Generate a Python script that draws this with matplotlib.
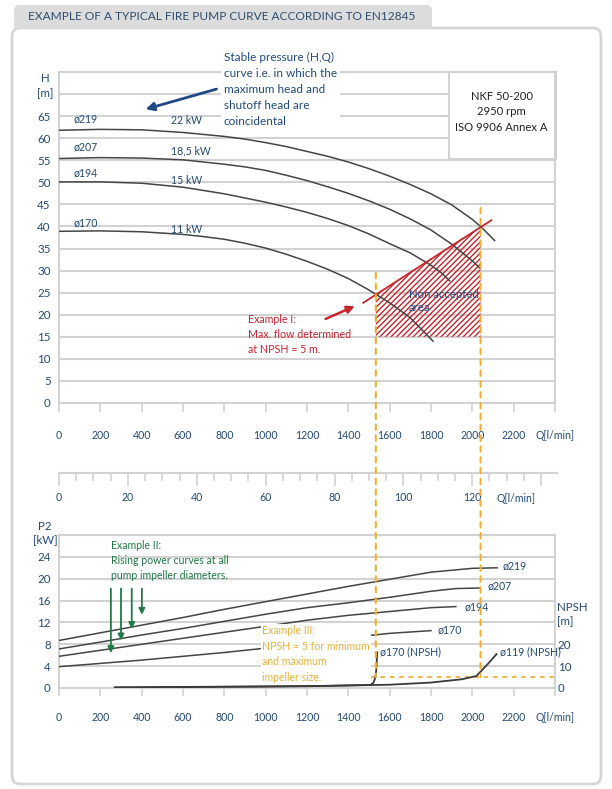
import matplotlib
matplotlib.use('Agg')
import matplotlib.pyplot as plt
from matplotlib.patches import Polygon, Rectangle, FancyBboxPatch, ConnectionPatch
import matplotlib.transforms as mtransforms

plt.rcParams['font.family'] = ['Lato', 'DejaVu Sans']
plt.rcParams['hatch.linewidth'] = 1.0

# ---- H(Q) curves ----
q219 = [0, 200, 400, 600, 800, 900, 1000, 1100, 1200, 1300, 1400, 1500, 1600, 1700, 1800, 1900, 2000, 2040, 2108]
h219 = [61.8, 62.0, 61.9, 61.3, 60.4, 59.8, 59.0, 58.1, 57.0, 55.9, 54.6, 53.1, 51.4, 49.5, 47.4, 44.9,
        41.6, 40.0, 36.8]
q207 = [0, 200, 400, 600, 800, 900, 1000, 1100, 1200, 1300, 1400, 1500, 1600, 1700, 1800, 1900, 2000, 2036]
h207 = [55.4, 55.6, 55.5, 55.1, 54.1, 53.5, 52.7, 51.6, 50.4, 49.0, 47.5, 45.8, 43.9, 41.7, 39.2, 36.0,
        32.2, 30.6]
q194 = [0, 200, 400, 600, 800, 1000, 1100, 1200, 1300, 1400, 1500, 1600, 1700, 1800, 1850, 1890]
h194 = [50.1, 50.1, 49.8, 48.9, 47.4, 45.5, 44.4, 43.2, 41.8, 40.2, 38.3, 36.1, 34.0, 31.2, 29.5, 27.7]
q170 = [0, 200, 400, 600, 700, 800, 900, 1000, 1100, 1200, 1300, 1400, 1500, 1600, 1700, 1810]
h170 = [38.9, 39.0, 38.8, 38.2, 37.7, 37.1, 36.2, 35.1, 33.7, 32.1, 30.3, 28.2, 25.6, 22.7, 19.3, 14.0]

diameters = ['ø219', 'ø207', 'ø194', 'ø170']
motor_kw = ['22 kW', '18,5 kW', '15 kW', '11 kW']

# non accepted area (red line and hatch)
red_q = [1472, 2092]
red_h = [22.7, 41.4]
area_q = [1533, 2040]
area_h = [24.6, 39.9]
area_floor = 15

# ---- P2(Q) curves ----
pq219 = [0, 200, 400, 600, 800, 1000, 1200, 1400, 1600, 1800, 2000, 2120]
p219 = [8.7, 10.1, 11.5, 12.9, 14.4, 15.8, 17.2, 18.6, 19.9, 21.2, 21.9, 22.0]
pq207 = [0, 200, 400, 600, 800, 1000, 1200, 1400, 1600, 1800, 1920, 2036]
p207 = [7.15, 8.4, 9.7, 10.9, 12.2, 13.5, 14.7, 15.6, 16.6, 17.7, 18.2, 18.3]
pq194 = [0, 200, 400, 600, 800, 1000, 1200, 1400, 1600, 1800, 1920]
p194 = [5.8, 6.9, 8.0, 9.1, 10.2, 11.3, 12.4, 13.3, 14.0, 14.7, 14.9]
pq170 = [0, 200, 400, 600, 800, 1000, 1200, 1400, 1600, 1800]
p170 = [3.9, 4.5, 5.1, 5.8, 6.5, 7.3, 8.2, 9.2, 10.0, 10.5]

# ---- NPSH curves ----
nq170 = [270, 600, 1000, 1300, 1500, 1520, 1530, 1535, 1540]
npsh170 = [0.2, 0.4, 0.7, 1.0, 1.4, 2.2, 4.5, 8.0, 16.3]
nq119 = [270, 600, 1000, 1200, 1600, 1800, 1950, 2020, 2040, 2080, 2117]
npsh119 = [0.3, 0.5, 0.7, 0.8, 1.5, 2.5, 4.0, 5.5, 7.5, 11.5, 15.5]
npsh_limit = 5
q_min_flow = 1533
q_max_flow = 2040

navy = '#234a78'
gridc = '#d2d2d2'
curvec = '#454545'
red = '#c8242b'
orange = '#eeb03a'
green = '#1f7a45'
dash = (0, (2.6, 2.6))

fig = plt.figure(figsize=(6.12, 7.89), dpi=100)

# frame and title tab
fig.add_artist(FancyBboxPatch((12 / 612, 5 / 789), 589 / 612, 756 / 789, transform=fig.transFigure,
                              boxstyle='round,pad=0,rounding_size=0.012', fc='white', ec='#d6d6d6',
                              lw=2, zorder=-5))
fig.add_artist(FancyBboxPatch((14 / 612, 1 - 29 / 789), 418 / 612, 24 / 789, transform=fig.transFigure,
                              boxstyle='round,pad=0,rounding_size=0.008', fc='#dcdcdc', ec='none', zorder=-4))
fig.add_artist(Rectangle((14 / 612, 1 - 29 / 789), 418 / 612, 10 / 789, transform=fig.transFigure,
                         fc='#dcdcdc', ec='none', zorder=-4))
fig.text(28 / 612, 1 - 17 / 789, 'EXAMPLE OF A TYPICAL FIRE PUMP CURVE ACCORDING TO EN12845',
         fontsize=8.6, color='#2e4c6d', va='center', ha='left')

L, W = 59 / 612, 496 / 612

# ================= top chart H(Q) =================
ax1 = fig.add_axes([L, 1 - 403 / 789, W, 331 / 789])
ax1.set_xlim(0, 2400)
ax1.set_ylim(0, 75)
ax1.set_xticks(range(0, 2401, 200))
ax1.set_xticklabels([str(v) for v in range(0, 2201, 200)] + ['Q[l/min]'])
ax1.set_yticks(range(0, 76, 5))
ax1.set_yticklabels([str(v) for v in range(0, 66, 5)] + ['', ''])
ax1.grid(axis='y', color=gridc, lw=1.5)
ax1.set_axisbelow(True)
for s in ax1.spines.values():
    s.set_color(gridc)
    s.set_linewidth(1.5)
ax1.tick_params(axis='x', length=6.5, width=1.2, color=gridc, pad=13, labelsize=7.6, labelcolor=navy)
ax1.tick_params(axis='y', length=0, pad=6, labelsize=8.3, labelcolor=navy)
ax1.patch.set_alpha(0)

tr1 = mtransforms.blended_transform_factory(ax1.transAxes, ax1.transData)
ax1.text(-0.028, 73.6, 'H', transform=tr1, ha='center', va='center', fontsize=8.3, color=navy)
ax1.text(-0.028, 70.2, '[m]', transform=tr1, ha='center', va='center', fontsize=8.3, color=navy)

for q, h in [(q219, h219), (q207, h207), (q194, h194), (q170, h170)]:
    ax1.plot(q, h, color=curvec, lw=1.1, zorder=3)

for txt, y in zip(diameters, [64.3, 58.0, 52.1, 40.8]):
    ax1.text(68, y, txt, fontsize=7.6, color=navy, va='center', ha='left')
for txt, y in zip(motor_kw, [63.9, 57.1, 50.5, 39.4]):
    ax1.text(543, y, txt, fontsize=7.6, color=navy, va='center', ha='left')

# info box
ax1.add_patch(Rectangle((1886, 55.3), 520, 19.7, fc='white', ec=gridc, lw=1.5, zorder=2, clip_on=False))
ax1.text(2142, 66.0, 'NKF 50-200\n2950 rpm\nISO 9906 Annex A', ha='center', va='center',
         fontsize=8.1, color='#222222', linespacing=1.5, zorder=4)

# non accepted area
ax1.add_patch(Polygon([(area_q[0], area_h[0]), (area_q[1], area_h[1]),
                       (area_q[1], area_floor), (area_q[0], area_floor)],
                      closed=True, fc='none', ec=red, lw=0, hatch='//////', zorder=2))
ax1.plot(red_q, red_h, color=red, lw=1.3, zorder=4)
ax1.text(1692, 23.1, 'Non accepted\narea', fontsize=8.2, color='#1f4e8c', ha='left', va='center',
         linespacing=1.2, zorder=5)

ax1.annotate('', xy=(1443, 22.2), xytext=(1278, 18.8),
             arrowprops=dict(arrowstyle='-|>', color=red, lw=1.8, mutation_scale=11), zorder=5)
ax1.text(914, 20.1, 'Example I:\nMax. flow determined\nat NPSH = 5 m.', fontsize=7.7, color=red,
         ha='left', va='top', linespacing=1.45)

ax1.text(798, 79.6, 'Stable pressure (H,Q)\ncurve i.e. in which the\nmaximum head and\nshutoff head are\ncoincidental',
         fontsize=8.5, color='#1f4a85', ha='left', va='top', linespacing=1.56, clip_on=False, zorder=5,
         bbox=dict(fc='white', ec='none', pad=2))
ax1.annotate('', xy=(406, 66.4), xytext=(775, 71.3),
             arrowprops=dict(arrowstyle='-|>', color='#1f4a85', lw=2, mutation_scale=12), zorder=6)

# ================= middle flow scale =================
axm = fig.add_axes([L, 1 - 473 / 789, 498 / 612, 0.0001])
axm.set_xlim(0, 144.6)
axm.set_ylim(0, 1)
axm.yaxis.set_visible(False)
for k in ['top', 'left', 'right']:
    axm.spines[k].set_visible(False)
axm.spines['bottom'].set_color(gridc)
axm.spines['bottom'].set_linewidth(1.5)
axm.set_xticks(range(0, 141, 20))
axm.set_xticklabels([str(v) for v in range(0, 121, 20)] + [''])
axm.set_xticks(range(0, 141, 5), minor=True)
axm.tick_params(axis='x', which='major', length=9, width=1.2, color=gridc, pad=4.5,
                labelsize=7.6, labelcolor=navy)
axm.tick_params(axis='x', which='minor', length=6, width=1.2, color=gridc)
trm = mtransforms.offset_copy(mtransforms.blended_transform_factory(axm.transData, axm.transAxes),
                              fig=fig, y=-18.5, units='points')
axm.text(132.6, 0, 'Q[l/min]', transform=trm, fontsize=7.6, color=navy, ha='center', va='center')
axm.patch.set_alpha(0)

# ================= bottom chart P2 / NPSH =================
ax3 = fig.add_axes([L, 1 - 688 / 789, W, 153 / 789])
ax3.set_xlim(0, 2400)
ax3.set_ylim(0, 28)
ax3.set_xticks(range(0, 2401, 200))
ax3.set_xticklabels([str(v) for v in range(0, 2201, 200)] + ['Q[l/min]'])
ax3.set_yticks(range(0, 29, 4))
ax3.set_yticklabels([str(v) for v in range(0, 25, 4)] + [''])
ax3.grid(axis='y', color=gridc, lw=1.5)
ax3.set_axisbelow(True)
for s in ax3.spines.values():
    s.set_color(gridc)
    s.set_linewidth(1.5)
ax3.tick_params(axis='x', length=5.5, width=1.2, color=gridc, pad=12, labelsize=7.6, labelcolor=navy)
ax3.tick_params(axis='y', length=0, pad=6, labelsize=8.3, labelcolor=navy)
tr3 = mtransforms.blended_transform_factory(ax3.transAxes, ax3.transData)
ax3.text(-0.028, 29.5, 'P2', transform=tr3, ha='center', va='center', fontsize=8.3, color=navy, clip_on=False)
ax3.text(-0.028, 27.2, '[kW]', transform=tr3, ha='center', va='center', fontsize=8.3, color=navy, clip_on=False)

for q, p in [(pq219, p219), (pq207, p207), (pq194, p194), (pq170, p170)]:
    ax3.plot(q, p, color=curvec, lw=1.1, zorder=3)
for txt, x, y in zip(diameters, [2147, 2074, 1963, 1833], [22.35, 18.7, 14.8, 10.6]):
    ax3.text(x, y, txt, fontsize=7.6, color=navy, va='center', ha='left')

# green arrows
for x, ytop, ybot in zip([251, 300, 352, 401], [18.7, 18.7, 18.7, 18.7], [5.9, 8.2, 10.3, 12.9]):
    ax3.annotate('', xy=(x, ybot), xytext=(x, ytop),
                 arrowprops=dict(arrowstyle='-|>', color=green, lw=1.3, mutation_scale=9), zorder=5)
ax3.text(251, 27.1, 'Example II:\nRising power curves at all\npump impeller diameters.',
         fontsize=7.6, color=green, ha='left', va='top', linespacing=1.45, zorder=5)

axn = ax3.twinx()
axn.set_ylim(0, 70)
axn.set_yticks([0, 10, 20])
axn.tick_params(axis='y', length=0, pad=2, labelsize=8.3, labelcolor=navy)
for s in axn.spines.values():
    s.set_visible(False)
trn = mtransforms.blended_transform_factory(axn.transAxes, axn.transData)
axn.text(1.004, 37.0, 'NPSH', transform=trn, ha='left', va='center', fontsize=8.3, color=navy)
axn.text(1.004, 30.2, '[m]', transform=trn, ha='left', va='center', fontsize=8.3, color=navy)

axn.plot(nq170, npsh170, color='#3a3a3a', lw=1.3, zorder=3)
axn.plot(nq119, npsh119, color='#3a3a3a', lw=1.3, zorder=3)
axn.text(1555, 16.5, 'ø170 (NPSH)', fontsize=7.6, color=navy, ha='left', va='center')
axn.text(2132, 16.5, 'ø119 (NPSH)', fontsize=7.6, color=navy, ha='left', va='center')
axn.plot([1280, 2400], [npsh_limit, npsh_limit], color=orange, lw=1.3, ls=dash, zorder=2)
axn.text(982, 28.6, 'Example III:\nNPSH = 5 for minimum\nand maximum\nimpeller size.',
         fontsize=7.6, color=orange, ha='left', va='top', linespacing=1.5, zorder=6,
         bbox=dict(fc='white', ec='none', pad=1.0))

# vertical dashed lines across both charts
for q, htop in [(q_min_flow, 29.5), (q_max_flow, 44.2)]:
    con = ConnectionPatch(xyA=(q, htop), coordsA='data', axesA=ax1,
                          xyB=(q, npsh_limit), coordsB='data', axesB=axn,
                          color=orange, lw=1.5, ls=dash, zorder=7)
    fig.add_artist(con)

fig.savefig('out.png', dpi=100)
